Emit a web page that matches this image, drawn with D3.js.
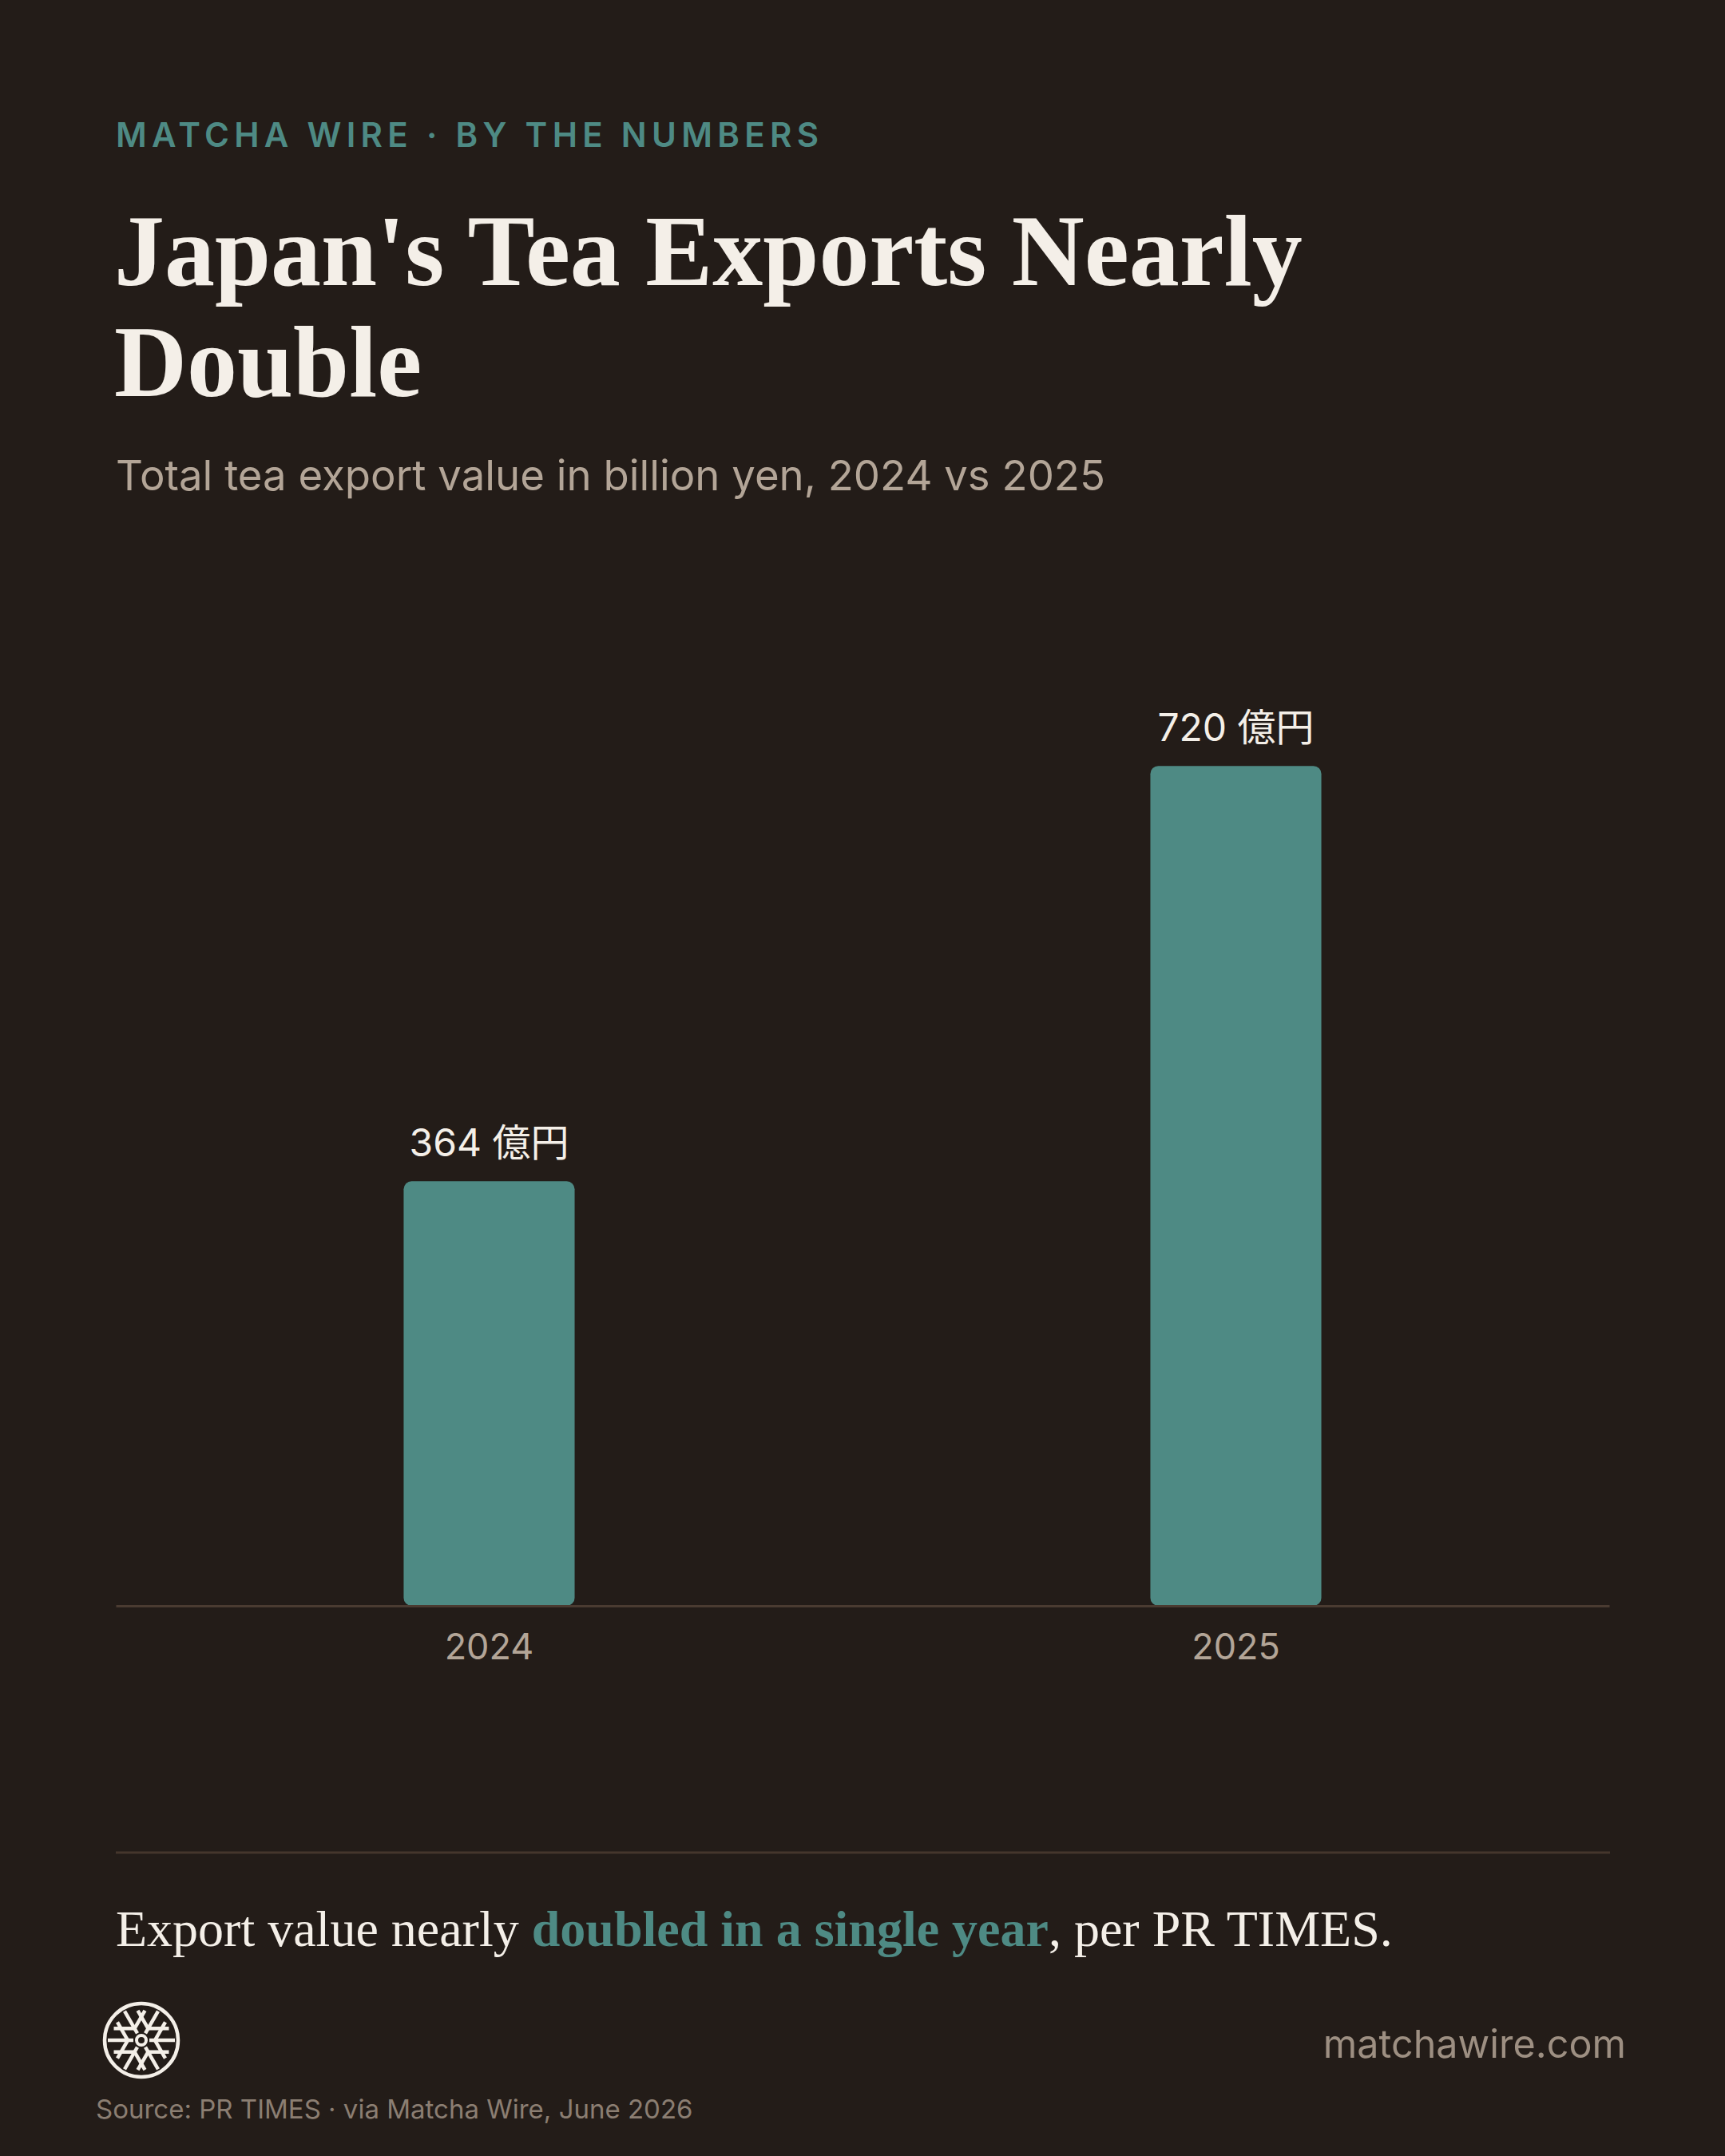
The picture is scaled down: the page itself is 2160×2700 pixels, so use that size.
<!DOCTYPE html>
<html>
<head>
<meta charset="utf-8">
<script src="https://cdn.jsdelivr.net/npm/d3@7"></script>
<style>
  html, body { margin: 0; padding: 0; background: #231c18; }
</style>
</head>
<body>
<div id="chart"></div>
<script>
// values
const years = ["2024", "2025"];
const exportValues = [364, 720];
const valueUnit = "億円";

const kickerText = "MATCHA WIRE · BY THE NUMBERS";
const titleLines = ["Japan's Tea Exports Nearly", "Double"];
const subtitleText = "Total tea export value in billion yen, 2024 vs 2025";
const takeaway = [
  { text: "Export value nearly ", bold: false },
  { text: "doubled in a single year", bold: true },
  { text: ", per PR TIMES.", bold: false },
];
const sourceText = "Source: PR TIMES · via Matcha Wire, June 2026";
const siteText = "matchawire.com";

function main(container) {
  const sel = d3.select(container);
  const width = 2160;
  const height = 2700;

  const bg = "#231c18";
  const teal = "#4e8a84";
  const cream = "#f4efe8";
  const tan = "#b3a597";
  const sans = "Inter, 'Noto Sans CJK JP', sans-serif";
  const serif = "'Liberation Serif', 'Times New Roman', serif";

  const margin = { left: 145, right: 144 };

  sel.selectAll("svg").remove();

  const svg = sel
    .append("svg")
    .attr("width", width)
    .attr("height", height)
    .style("display", "block")
    .style("background", bg);

  // header
  svg
    .append("text")
    .attr("x", margin.left)
    .attr("y", 184)
    .attr("font-family", sans)
    .attr("font-size", "42px")
    .attr("font-weight", "600")
    .attr("letter-spacing", "0.15em")
    .attr("fill", teal)
    .text(kickerText);

  svg
    .append("text")
    .attr("font-family", serif)
    .attr("font-size", "126px")
    .attr("font-weight", "700")
    .attr("fill", cream)
    .selectAll("tspan")
    .data(titleLines)
    .enter()
    .append("tspan")
    .attr("x", margin.left - 2)
    .attr("y", (d, i) => 357 + i * 139)
    .text((d) => d);

  svg
    .append("text")
    .attr("x", margin.left)
    .attr("y", 614)
    .attr("font-family", sans)
    .attr("font-size", "52.7px")
    .attr("fill", tan)
    .text(subtitleText);

  // chart
  const data = years.map((y, i) => ({ year: y, value: exportValues[i] }));
  const baseY = 2011;

  const x = d3
    .scaleBand()
    .domain(years)
    .range([margin.left, width - margin.right - 1])
    .paddingInner(0.771)
    .paddingOuter(0.3855);

  const y = d3
    .scaleLinear()
    .domain([0, d3.max(exportValues) * 1.1])
    .range([baseY, 854]);

  svg
    .selectAll("rect.bar")
    .data(data)
    .enter()
    .append("rect")
    .attr("class", "bar")
    .attr("x", (d) => x(d.year))
    .attr("y", (d) => y(d.value))
    .attr("width", x.bandwidth())
    .attr("height", (d) => y(0) - y(d.value))
    .attr("rx", 10)
    .attr("ry", 10)
    .attr("fill", teal);

  svg
    .selectAll("text.value-label")
    .data(data)
    .enter()
    .append("text")
    .attr("class", "value-label")
    .attr("x", (d) => x(d.year) + x.bandwidth() / 2)
    .attr("y", (d) => y(d.value) - 31)
    .attr("text-anchor", "middle")
    .attr("font-family", sans)
    .attr("font-size", "48px")
    .attr("fill", cream)
    .text((d) => `${d.value} ${valueUnit}`);

  const xAxis = svg
    .append("g")
    .attr("transform", `translate(0,${baseY})`)
    .call(d3.axisBottom(x).tickSize(0).tickPadding(67));
  xAxis
    .select(".domain")
    .attr("stroke", "#4a3b31")
    .attr("stroke-width", 3);
  xAxis
    .selectAll("text")
    .attr("font-family", sans)
    .attr("font-size", "45px")
    .attr("fill", tan)
    .attr("dy", 0);

  // footer
  svg
    .append("line")
    .attr("x1", margin.left)
    .attr("x2", width - margin.right)
    .attr("y1", 2320)
    .attr("y2", 2320)
    .attr("stroke", "#45362c")
    .attr("stroke-width", 3);

  svg
    .append("text")
    .attr("x", margin.left)
    .attr("y", 2437)
    .attr("font-family", serif)
    .attr("font-size", "64px")
    .attr("fill", cream)
    .selectAll("tspan")
    .data(takeaway)
    .enter()
    .append("tspan")
    .attr("font-weight", (d) => (d.bold ? "700" : "400"))
    .attr("fill", (d) => (d.bold ? teal : cream))
    .text((d) => d.text);

  // snowflake mark
  const logo = svg
    .append("g")
    .attr("transform", "translate(177,2555)")
    .attr("stroke", cream)
    .attr("fill", "none")
    .attr("stroke-width", 4.5);
  logo.append("circle").attr("r", 46);
  logo.append("circle").attr("r", 6).attr("stroke-width", 4);
  const rad = Math.PI / 180;
  d3.range(0, 360, 60).forEach((a) => {
    const ca = Math.cos(a * rad);
    const sa = Math.sin(a * rad);
    logo
      .append("line")
      .attr("x1", 10 * ca)
      .attr("y1", 10 * sa)
      .attr("x2", 42 * ca)
      .attr("y2", 42 * sa);
    [-60, 60].forEach((b) => {
      const bx = 17 * ca;
      const by = 17 * sa;
      logo
        .append("line")
        .attr("x1", bx)
        .attr("y1", by)
        .attr("x2", bx + 26 * Math.cos((a + b) * rad))
        .attr("y2", by + 26 * Math.sin((a + b) * rad));
    });
  });

  svg
    .append("text")
    .attr("x", 2036)
    .attr("y", 2577)
    .attr("text-anchor", "end")
    .attr("font-family", sans)
    .attr("font-size", "48.5px")
    .attr("fill", "#9d8f82")
    .text(siteText);

  svg
    .append("text")
    .attr("x", 120)
    .attr("y", 2653)
    .attr("font-family", sans)
    .attr("font-size", "33px")
    .attr("fill", "#8b7e72")
    .text(sourceText);
}

main(document.getElementById("chart"));
</script>
</body>
</html>
